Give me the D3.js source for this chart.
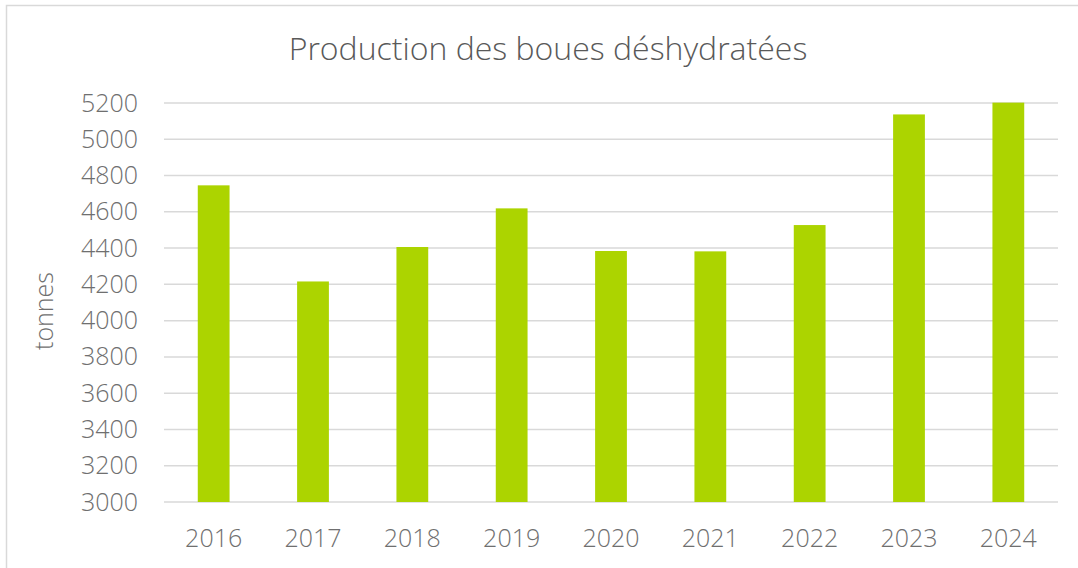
<!DOCTYPE html>
<html>
<head>
<meta charset="utf-8">
<script src="https://cdn.jsdelivr.net/npm/d3@7"></script>
<style>
  body { margin: 0; background: #fff; }
  text { font-family: "Open Sans", sans-serif; }
</style>
</head>
<body>
<div id="chart"></div>
<script>
// data
var years = ["2016", "2017", "2018", "2019", "2020", "2021", "2022", "2023", "2024"];
var tonnes = [4746, 4216, 4406, 4619, 4384, 4382, 4527, 5137, 5202];
var yTicks = [3000, 3200, 3400, 3600, 3800, 4000, 4200, 4400, 4600, 4800, 5000, 5200];

var W = 1078, H = 568;
var margin = {top: 103, right: 20, bottom: 66, left: 164},
    width = 1058 - margin.left,
    height = 502 - margin.top;

var svg = d3.select("#chart")
  .append("svg")
    .attr("width", W)
    .attr("height", H);

// chart frame
svg.append("rect")
  .attr("x", 6.5).attr("y", 5.5)
  .attr("width", W + 10).attr("height", H + 10)
  .attr("fill", "#fff")
  .attr("stroke", "#d9d9d9")
  .attr("stroke-width", 1.5);

var g = svg.append("g")
  .attr("transform", "translate(" + margin.left + "," + margin.top + ")");

var x = d3.scaleBand()
  .domain(years)
  .range([0, width])
  .paddingInner(0.68)
  .paddingOuter(0.34);

var y = d3.scaleLinear()
  .domain([3000, 5200])
  .range([height, 0]);

// gridlines
g.append("g")
  .selectAll("line")
  .data(yTicks)
  .enter()
  .append("line")
    .attr("x1", 0)
    .attr("x2", width)
    .attr("y1", function(d) { return y(d); })
    .attr("y2", function(d) { return y(d); })
    .attr("stroke", "#d9d9d9")
    .attr("stroke-width", 1.5);

// bars
g.append("g")
  .selectAll("rect")
  .data(years)
  .enter()
  .append("rect")
    .attr("x", function(d) { return x(d); })
    .attr("width", x.bandwidth())
    .attr("y", function(d, i) { return y(tonnes[i]); })
    .attr("height", function(d, i) { return height - y(tonnes[i]); })
    .attr("fill", "#acd400");

// Y axis
var yAxis = g.append("g")
  .call(d3.axisLeft(y).tickValues(yTicks).tickFormat(d3.format("d")).tickSize(0).tickPadding(26));
yAxis.select(".domain").remove();
yAxis.selectAll("text")
  .style("font-size", "25px")
  .style("font-weight", 300)
  .attr("fill", "#6f6f6f");

// X axis
var xAxis = g.append("g")
  .attr("transform", "translate(0," + height + ")")
  .call(d3.axisBottom(x).tickSize(0).tickPadding(27));
xAxis.select(".domain").remove();
xAxis.selectAll("text")
  .style("font-size", "25px")
  .style("font-weight", 300)
  .attr("fill", "#6f6f6f");

// Title
svg.append("text")
  .attr("x", 548)
  .attr("y", 60)
  .attr("text-anchor", "middle")
  .style("font-size", "32px")
  .style("font-weight", 300)
  .attr("fill", "#595959")
  .text("Production des boues déshydratées");

// y label
svg.append("text")
  .attr("transform", "translate(53,311) rotate(-90)")
  .attr("text-anchor", "middle")
  .style("font-size", "25px")
  .style("font-weight", 300)
  .attr("fill", "#6f6f6f")
  .text("tonnes");
</script>
</body>
</html>
